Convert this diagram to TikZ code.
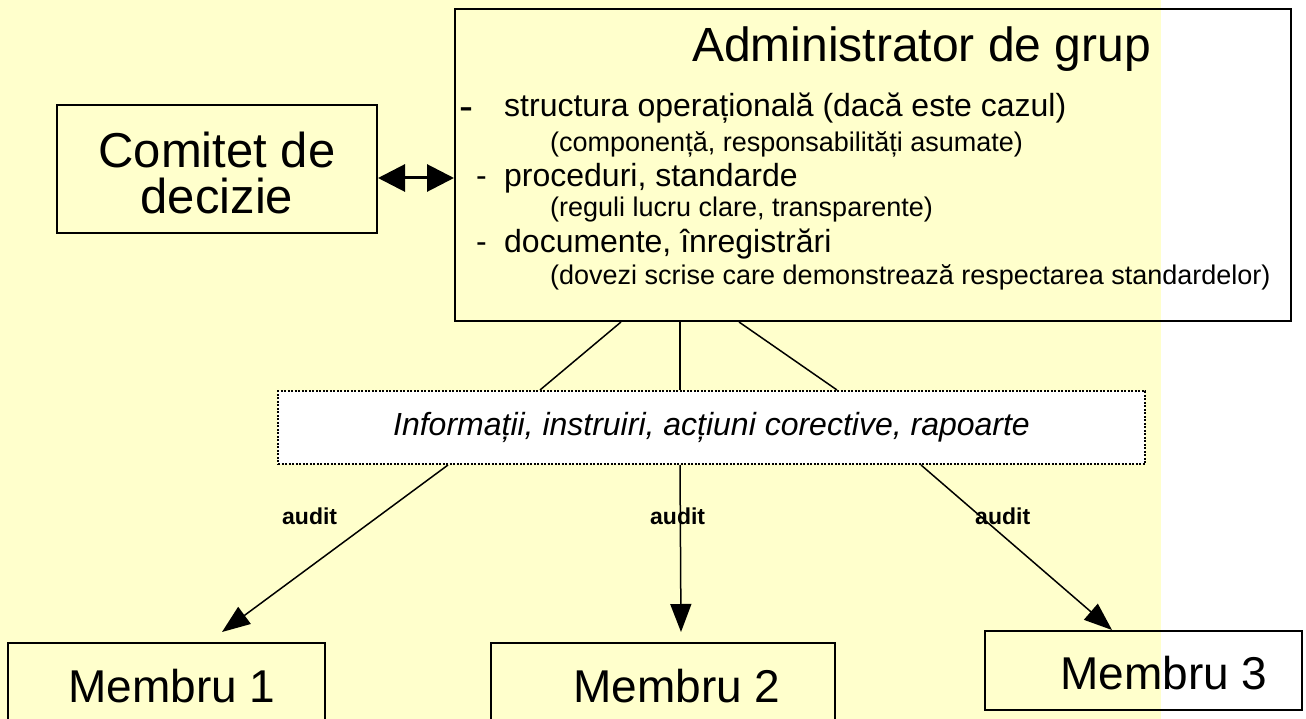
\documentclass[tikz,border=0pt]{standalone}
\usepackage{fontspec}
\setmainfont{Liberation Sans}
\usetikzlibrary{arrows.meta,calc}
\definecolor{bgyellow}{HTML}{FFFFCC}
\begin{document}
\begin{tikzpicture}[x=1pt,y=-1pt,
  box/.style={draw=black,line width=2pt,inner sep=0pt},
  txt/.style={inner sep=0pt,anchor=base west},
  main/.style={font=\fontsize{32}{32}\selectfont},
  sub/.style={font=\fontsize{27}{27}\selectfont},
  memtxt/.style={inner sep=0pt,anchor=base,font=\fontsize{46}{46}\selectfont},
  audittxt/.style={inner sep=0pt,anchor=base west,font=\fontsize{23}{23}\selectfont\bfseries},
  conn/.style={draw=black,line width=1.5pt},
  tip/.style={-{Triangle[length=28pt,width=21pt]}},
  dottedbox/.style={draw=black,line width=2pt,dash pattern=on 2pt off 1.5pt,fill=white,inner sep=0pt}
]
\useasboundingbox (0,0) rectangle (1306,719);
\fill[bgyellow] (0,0) rectangle (1161,719);

% boxes
\node[box,minimum width=836pt,minimum height=312pt] (admin) at (873,165) {};
\node[box,minimum width=320pt,minimum height=128pt,align=center,
      font=\fontsize{49}{46}\selectfont] (comitet) at (217,169)
      {\rule{0pt}{44pt}Comitet de\\decizie};
\node[dottedbox,minimum width=867pt,minimum height=73pt,
      font=\fontsize{32}{32}\selectfont\itshape] (info) at (711.5,427.5)
      {Informații, instruiri, acțiuni corective, rapoarte};
\node[box,minimum width=317pt,minimum height=120pt,anchor=north] (m1) at (166.5,642) {};
\node[box,minimum width=344pt,minimum height=120pt,anchor=north] (m2) at (663,642) {};
\node[box,minimum width=317pt,minimum height=79pt,anchor=north] (m3) at (1143.5,630) {};

% admin texts
\node[txt,font=\fontsize{48}{48}\selectfont] (title) at (692,62) {Administrator de grup};
\node[txt,font=\fontsize{42}{42}\selectfont] (d1) at (459,121) {-};
\node[txt,main] (l1) at (504,117) {structura operațională (dacă este cazul)};
\node[txt,sub] (s1) at (550,152) {(componență, responsabilități asumate)};
\node[txt,main] (l2) at (476,187) {\makebox[28pt][l]{-}proceduri, standarde};
\node[txt,sub] (s2) at (550,217) {(reguli lucru clare, transparente)};
\node[txt,main] (l3) at (476,253) {\makebox[28pt][l]{-}documente, înregistrări};
\node[txt,sub] (s3) at (550,285) {(dovezi scrise care demonstrează respectarea standardelor)};

% member texts
\node[memtxt] (m1t) at (172,702) {Membru 1};
\node[memtxt] (m2t) at (677,702) {Membru 2};
\node[memtxt] (m3t) at (1164,689) {Membru 3};

% double arrow
\coordinate (dl) at ([yshift=-9pt]comitet.east);
\draw[line width=3pt,{Triangle[length=27pt,width=27pt]}-{Triangle[length=27pt,width=27pt]}]
  (dl) -- (dl -| admin.west);

% upper connectors
\draw[conn] ([xshift=167pt]admin.south west) -- ([xshift=263pt]info.north west);
\draw[conn] ([xshift=226pt]admin.south west) -- ([xshift=403pt]info.north west);
\draw[conn] ([xshift=285pt]admin.south west) -- ([xshift=560pt]info.north west);

% lower arrows
\draw[conn,tip] ([xshift=171pt]info.south west) -- ([xshift=55.5pt,yshift=10pt]m1.north);
\draw[conn,tip] ([xshift=403pt]info.south west) -- ([xshift=18pt,yshift=10pt]m2.north);
\draw[conn,tip] ([xshift=644pt]info.south west) -- ([xshift=-31.5pt]m3.north);

% audit labels
\node[audittxt] (a1) at (282,524) {audit};
\node[audittxt] (a2) at (650,524) {audit};
\node[audittxt] (a3) at (975,524) {audit};
\end{tikzpicture}
\end{document}
